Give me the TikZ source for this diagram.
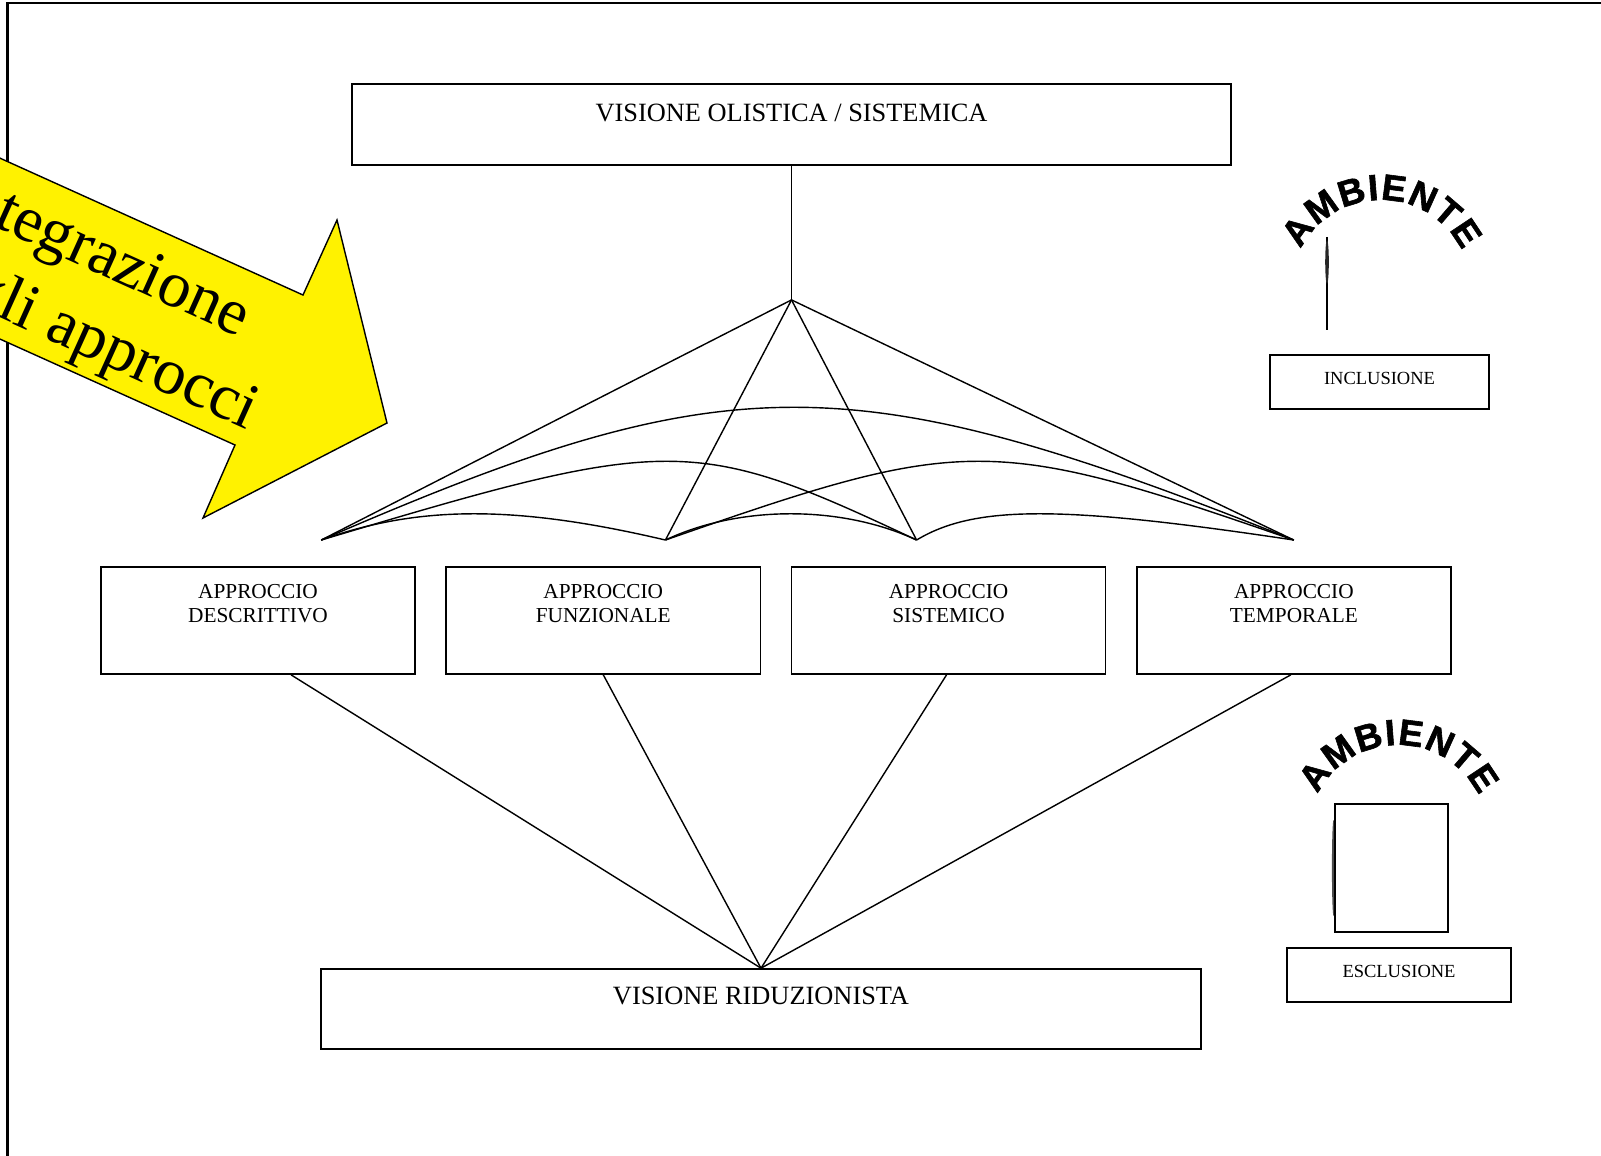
\documentclass[tikz,border=0pt]{standalone}
\usepackage{fontspec}
\setmainfont{Liberation Serif}
\newfontfamily\ambfont[BoldFeatures={FakeBold=1.6}]{Liberation Sans}
\usetikzlibrary{positioning,arrows,decorations.text}

\tikzset{
  vbox/.style={draw,line width=0.45pt,inner sep=0pt},
  lbl/.style={inner sep=0pt,align=center,font=\fontsize{7.5}{9}\selectfont},
  alb/.style={inner sep=0pt,align=center,font=\fontsize{6.06}{6.83}\selectfont},
  slb/.style={text depth=0.08cm,font=\fontsize{5.26}{6}\selectfont},
  conn/.style={line width=0.4pt},
  arw/.style={anchor=base west,rotate=-24.3,inner sep=0pt,font=\fontsize{18.5}{23}\selectfont},
  amb/.style={decorate,decoration={text along path,text align={fit to path},
      text={|\ambfont\bfseries\fontsize{10.4}{10.4}\selectfont|AMBIENTE}}}
}

\begin{document}
\begin{tikzpicture}[x=0.01cm,y=0.01cm]

  \useasboundingbox (0,0) rectangle (1601,-1155);
  \clip (0,0) rectangle (1601,-1155);

  % Frame
  \draw [line width=0.6pt] (7.5,-1160) -- (7.5,-3) -- (1610,-3);

  % Yellow arrow
  \draw [line width=0.4pt,fill=yellow] (-100,-113) -- (303,-295) -- (337,-220)
    -- (387,-423) -- (203,-518) -- (235,-445) -- (-100,-294) -- cycle;
  \node [arw] (int1) at (-58,-203) {Integrazione};
  \node [arw] (int2) at (-91,-277) {degli approcci};

  % Holistic vision
  \node [vbox,minimum width=8.79cm,minimum height=0.81cm] (olis) at (791.5,-124.5) {};
  \node [lbl,below=0.2cm of olis.north] (olisT) {VISIONE OLISTICA / SISTEMICA};

  % Apex and feet
  \node [coordinate,below=1.34cm of olis] (apex) {};
  \node [coordinate,below left=2.4cm and 4.7cm of apex] (p1) {};
  \node [coordinate,below left=2.4cm and 1.26cm of apex] (p2) {};
  \node [coordinate,below right=2.4cm and 1.25cm of apex] (p3) {};
  \node [coordinate,below right=2.4cm and 5.02cm of apex] (p4) {};
  \draw [conn] (olis) -- (apex);
  \foreach \p in {p1,p2,p3,p4}
    \draw [conn] (apex) -- (\p);

  % Arches
  \draw [conn] (p1) .. controls +(408,177) and +(-444,177) .. (p4);
  \draw [conn] (p1) .. controls +(350,105) and +(-223,105) .. (p3);
  \draw [conn] (p2) .. controls +(300,105) and +(-303,105) .. (p4);
  \draw [conn] (p1) .. controls +(98,35) and +(-149,35) .. (p2);
  \draw [conn] (p2) .. controls +(74,35) and +(-75,35) .. (p3);
  \draw [conn] (p3) .. controls +(58,35) and +(-233,35) .. (p4);

  % Approaches
  \node [vbox,minimum width=3.14cm,minimum height=1.07cm] (desc) at (258,-620.5) {};
  \node [vbox,minimum width=3.14cm,minimum height=1.07cm,right=0.295cm of desc] (funz) {};
  \node [vbox,minimum width=3.14cm,minimum height=1.07cm,right=0.295cm of funz] (sist) {};
  \node [vbox,minimum width=3.14cm,minimum height=1.07cm,right=0.295cm of sist] (temp) {};
  \node [alb,below=0.17cm of desc.north] (descT) {APPROCCIO\\DESCRITTIVO};
  \node [alb,below=0.17cm of funz.north] (funzT) {APPROCCIO\\FUNZIONALE};
  \node [alb,below=0.17cm of sist.north] (sistT) {APPROCCIO\\SISTEMICO};
  \node [alb,below=0.17cm of temp.north] (tempT) {APPROCCIO\\TEMPORALE};

  % Reductionist vision
  \node [vbox,minimum width=8.8cm,minimum height=0.8cm] (riduz) at (761,-1009) {};
  \node [lbl,below=0.18cm of riduz.north] (riduzT) {VISIONE RIDUZIONISTA};
  \draw [conn] ([xshift=0.33cm]desc.south) -- (riduz.north);
  \draw [conn] (funz.south) -- (riduz.north);
  \draw [conn] ([xshift=-0.02cm]sist.south) -- (riduz.north);
  \draw [conn] ([xshift=-0.03cm]temp.south) -- (riduz.north);

  % Inclusion
  \path [amb] ([shift={(153:90)}]1381,-290) arc (153:26:90);
  \draw [line width=0.35pt] (1327,-237) -- (1327,-330);
  \fill [black!85] (1327,-262) ellipse (1.8 and 22);
  \node [vbox,slb,minimum width=2.19cm,minimum height=0.54cm] (incl) at (1379.5,-382) {INCLUSIONE};

  % Exclusion
  \path [amb] ([shift={(153:90)}]1398,-835) arc (153:26:90);
  \fill [black!70] (1333.5,-868) ellipse (1.6 and 48);
  \node [vbox,minimum width=1.13cm,minimum height=1.28cm] (escsq) at (1391.5,-868) {};
  \node [vbox,slb,minimum width=2.24cm,minimum height=0.54cm] (escl) at (1399,-975) {ESCLUSIONE};

\end{tikzpicture}
\end{document}
